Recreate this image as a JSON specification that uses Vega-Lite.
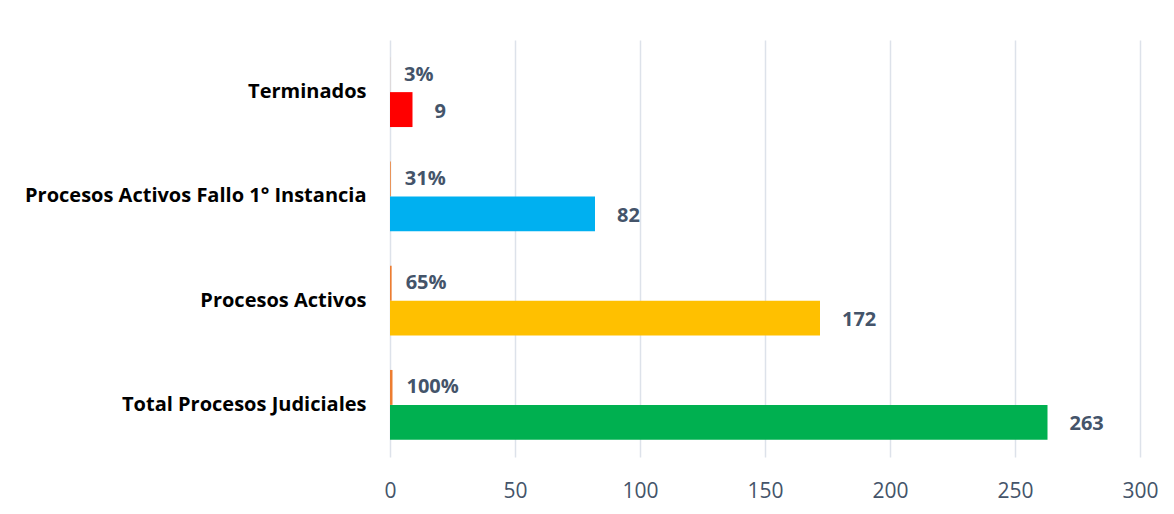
{
  "$schema": "https://vega.github.io/schema/vega-lite/v6.json",
  "width": 750,
  "height": 417,
  "autosize": {"type": "none"},
  "padding": {"left": 390, "top": 40, "right": 34, "bottom": 57},
  "background": "white",
  "config": {"view": {"stroke": null}},
  "data": {
    "values": [
      {"categoria": "Terminados", "tipo": "1_pct", "grupo": "Porcentaje", "valor": 0.03, "etiqueta": "3%"},
      {"categoria": "Terminados", "tipo": "2_num", "grupo": "Terminados", "valor": 9, "etiqueta": "9"},
      {"categoria": "Procesos Activos Fallo 1° Instancia", "tipo": "1_pct", "grupo": "Porcentaje", "valor": 0.31, "etiqueta": "31%"},
      {"categoria": "Procesos Activos Fallo 1° Instancia", "tipo": "2_num", "grupo": "Procesos Activos Fallo 1° Instancia", "valor": 82, "etiqueta": "82"},
      {"categoria": "Procesos Activos ", "tipo": "1_pct", "grupo": "Porcentaje", "valor": 0.65, "etiqueta": "65%"},
      {"categoria": "Procesos Activos ", "tipo": "2_num", "grupo": "Procesos Activos ", "valor": 172, "etiqueta": "172"},
      {"categoria": "Total Procesos Judiciales", "tipo": "1_pct", "grupo": "Porcentaje", "valor": 1, "etiqueta": "100%"},
      {"categoria": "Total Procesos Judiciales", "tipo": "2_num", "grupo": "Total Procesos Judiciales", "valor": 263, "etiqueta": "263"}
    ]
  },
  "encoding": {
    "y": {
      "field": "categoria",
      "type": "nominal",
      "sort": ["Terminados", "Procesos Activos Fallo 1° Instancia", "Procesos Activos ", "Total Procesos Judiciales"],
      "scale": {"paddingInner": 0.33, "paddingOuter": 0.165},
      "axis": {
        "title": null,
        "domain": false,
        "ticks": false,
        "labelPadding": 24,
        "labelFont": "Open Sans",
        "labelFontWeight": "bold",
        "labelFontSize": 20,
        "labelColor": "#000000",
        "labelLimit": 400
      }
    },
    "yOffset": {"field": "tipo", "type": "nominal", "sort": ["1_pct", "2_num"], "scale": {"paddingInner": 0, "paddingOuter": 0}},
    "x": {
      "field": "valor",
      "type": "quantitative",
      "scale": {"domain": [0, 300], "nice": false},
      "axis": {
        "title": null,
        "values": [0, 50, 100, 150, 200, 250, 300],
        "domain": false,
        "ticks": false,
        "grid": true,
        "gridColor": "#dde2ea",
        "gridWidth": 1.5,
        "labelPadding": 23,
        "labelFont": "Open Sans",
        "labelFontSize": 21,
        "labelColor": "#44546a",
        "labelFlush": false
      }
    }
  },
  "layer": [
    {
      "mark": {"type": "bar"},
      "encoding": {
        "color": {
          "field": "grupo",
          "type": "nominal",
          "scale": {
            "domain": ["Porcentaje", "Terminados", "Procesos Activos Fallo 1° Instancia", "Procesos Activos ", "Total Procesos Judiciales"],
            "range": ["#ed7d31", "#ff0000", "#00b0f0", "#ffc000", "#00b050"]
          },
          "legend": null
        }
      }
    },
    {
      "transform": [{"filter": "datum.tipo == '1_pct'"}],
      "mark": {"type": "text", "align": "left", "baseline": "middle", "dx": 14, "dy": 0, "font": "Open Sans", "fontWeight": "bold", "fontSize": 20, "color": "#44546a"},
      "encoding": {"text": {"field": "etiqueta"}}
    },
    {
      "transform": [{"filter": "datum.tipo == '2_num'"}],
      "mark": {"type": "text", "align": "left", "baseline": "middle", "dx": 22, "dy": 2, "font": "Open Sans", "fontWeight": "bold", "fontSize": 20, "color": "#44546a"},
      "encoding": {"text": {"field": "etiqueta"}}
    }
  ]
}
